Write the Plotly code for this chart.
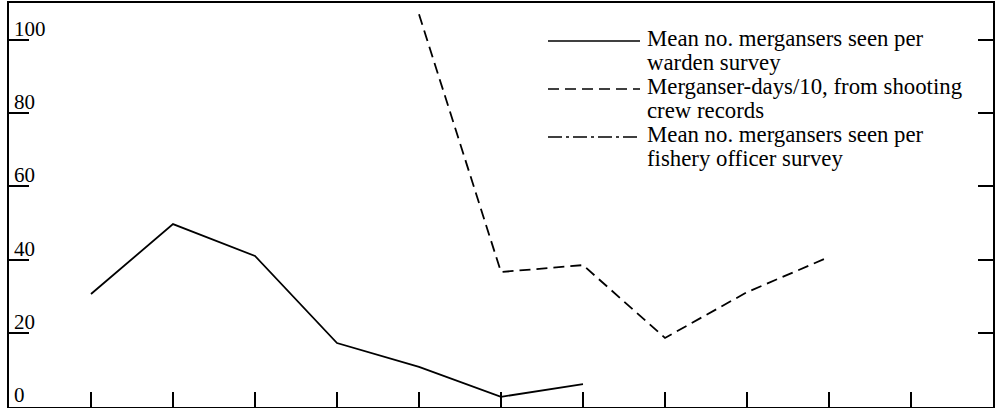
import plotly.graph_objects as go

# Survey periods (tick positions along the bottom axis)
periods = list(range(0, 11))

# Mean no. mergansers seen per warden survey
warden_x = [0, 1, 2, 3, 4, 5, 6]
warden_y = [30.6, 49.7, 41.0, 17.2, 10.7, 2.5, 6.0]

# Merganser-days/10, from shooting crew records
crew_x = [4, 5, 6, 7, 8, 9]
crew_y = [107.0, 36.6, 38.5, 18.6, 31.1, 40.7]

# Mean no. mergansers seen per fishery officer survey (legend entry only)
fishery_x = []
fishery_y = []

y_ticks = [0, 20, 40, 60, 80, 100]

legend_entries = [
    ("solid", ["Mean no. mergansers seen per", "warden survey"]),
    ("11px,6px", ["Merganser-days/10, from shooting", "crew records"]),
    ("14px,4px,3px,4px", ["Mean no. mergansers seen per", "fishery officer survey"]),
]

FONT = "Liberation Serif"
W, H = 1000, 408
ML, MR, MT, MB = 9, 7, 3, 1
PW, PH = W - ML - MR, H - MT - MB


def px_to_paper_x(px):
    return (px - ML) / PW


def px_to_paper_y(py):
    return (H - MB - py) / PH


fig = go.Figure()
fig.add_trace(go.Scatter(x=warden_x, y=warden_y, mode="lines",
                         line=dict(color="black", width=1.8, dash="solid"),
                         showlegend=False))
fig.add_trace(go.Scatter(x=crew_x, y=crew_y, mode="lines",
                         line=dict(color="black", width=1.8, dash="11px,6px"),
                         showlegend=False))
fig.add_trace(go.Scatter(x=fishery_x, y=fishery_y, mode="lines",
                         line=dict(color="black", width=1.8, dash="14px,4px,3px,4px"),
                         showlegend=False))
# invisible trace to carry the right-hand tick axis
fig.add_trace(go.Scatter(x=[None], y=[None], yaxis="y2", showlegend=False))

y_lo, y_hi = -0.27, 110.1

# Tick labels sit just above their tick marks, inside the frame
annotations = []
for v in y_ticks:
    annotations.append(dict(
        x=0, xref="paper", y=v, yref="y", text=str(v), showarrow=False,
        xanchor="left", yanchor="bottom", xshift=3, yshift=-3,
        font=dict(family=FONT, size=21, color="black")))

# Legend block drawn with shapes + text lines
shapes = []
entry_y = [41, 89, 137]
line_gap = 23
for (dash, lines), sy in zip(legend_entries, entry_y):
    shapes.append(dict(type="line", xref="paper", yref="paper",
                       x0=px_to_paper_x(548), x1=px_to_paper_x(640),
                       y0=px_to_paper_y(sy), y1=px_to_paper_y(sy),
                       line=dict(color="black", width=1.6, dash=dash)))
    for k, txt in enumerate(lines):
        annotations.append(dict(
            x=px_to_paper_x(645), xref="paper",
            y=px_to_paper_y(sy - 2 + k * line_gap), yref="paper",
            text=txt, showarrow=False, xanchor="left", yanchor="middle",
            font=dict(family=FONT, size=22.8, color="black")))

fig.update_layout(
    width=W, height=H,
    margin=dict(l=ML, r=MR, t=MT, b=MB),
    paper_bgcolor="white", plot_bgcolor="white",
    xaxis=dict(range=[-1, 11], tickvals=periods, showticklabels=False,
               ticks="inside", ticklen=15, tickwidth=1.6, tickcolor="black",
               showgrid=False, zeroline=False, showline=True, linecolor="black",
               linewidth=2, mirror=True),
    yaxis=dict(range=[y_lo, y_hi], tickvals=y_ticks, showticklabels=False,
               ticks="inside", ticklen=20, tickwidth=1.6, tickcolor="black",
               showgrid=False, zeroline=False, showline=True, linecolor="black",
               linewidth=2, mirror=True),
    yaxis2=dict(range=[y_lo, y_hi], tickvals=y_ticks, showticklabels=False,
                overlaying="y", side="right",
                ticks="inside", ticklen=15, tickwidth=1.6, tickcolor="black",
                showgrid=False, zeroline=False, showline=False),
    shapes=shapes,
    annotations=annotations,
    showlegend=False,
)

fig.write_html("out.html")
